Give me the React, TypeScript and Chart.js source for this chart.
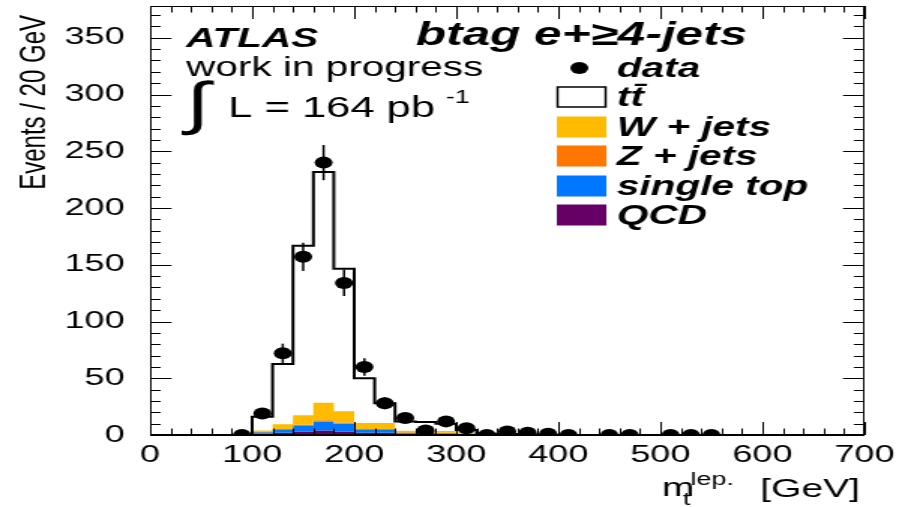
import { useEffect, useRef } from 'react';
import { Chart, registerables } from 'chart.js';

Chart.register(...registerables);

// ---------------- data ----------------
const BIN = 20; // GeV per bin
const binLow = [100, 120, 140, 160, 180, 200, 220, 240, 260, 280, 300, 320, 340, 360, 380];
const qcd = [1, 2, 3, 4, 3, 2, 2, 1, 0.8, 0.6, 0.4, 0.2, 0.1, 0, 0];
const singleTop = [1.5, 2.5, 5, 8, 7, 2.5, 2.5, 1, 1, 1, 0.6, 0.3, 0.2, 0.2, 0.1];
const zJets = [0.5, 0.7, 1, 1, 1, 0.8, 0.8, 0.5, 0.4, 0.4, 0.3, 0.1, 0.1, 0, 0];
const wJets = [1, 4.3, 8.5, 15.5, 10, 5.2, 5.2, 1.3, 1.3, 1.5, 1, 0.4, 0.4, 0.3, 0.2];
const ttbar = [12, 53.1, 149.2, 203.2, 125.4, 39.5, 17.5, 8.2, 8, 6.5, 2.1, 0.2, 0, 0, 0];

const dataX = [90, 110, 130, 150, 170, 190, 210, 230, 250, 270, 290, 310, 330, 350, 370, 390, 410, 450, 470, 510, 530, 550];
const dataY = [0, 19, 72, 157, 240, 134, 60, 28, 15, 4, 12, 6, 0, 3, 2, 1, 0, 0, 0, 0, 0, 0];
const dataErr = [0, 4.4, 8.5, 12.5, 15.5, 11.6, 7.7, 5.3, 3.9, 2, 3.5, 2.4, 0, 1.7, 1.4, 1, 0, 0, 0, 0, 0, 0];

const xTicks = [0, 100, 200, 300, 400, 500, 600, 700];
const yTicks = [0, 50, 100, 150, 200, 250, 300, 350];

const legendLabels = ['data', 'tt\u0304', 'W + jets', 'Z + jets', 'single top', 'QCD'];
const legendColors = ['#000000', '#ffffff', '#ffbb00', '#ff7700', '#0077ff', '#660066'];

// ---------------- layout ----------------
const W = 609;
const H = 507;
const SX = 914 / W;
const FONT = '"Liberation Sans", Arial, Helvetica, sans-serif';

function add(a: number[], b: number[]) {
  return a.map((v, i) => v + b[i]);
}
const cQcd = qcd.slice();
const cSt = add(cQcd, singleTop);
const cZ = add(cSt, zJets);
const cW = add(cZ, wJets);
const cTot = add(cW, ttbar);

function steps(vals: number[]) {
  const n = vals.length;
  const pts: { x: number; y: number }[] = [{ x: binLow[0], y: 0 }];
  vals.forEach((v, i) => pts.push({ x: binLow[i], y: v }));
  pts.push({ x: binLow[n - 1] + BIN, y: vals[n - 1] });
  pts.push({ x: binLow[n - 1] + BIN, y: 0 });
  return pts;
}

const framePlugin = {
  id: 'frameTicks',
  afterDatasetsDraw(chart: any) {
    const { ctx, chartArea: a, scales } = chart;
    const xs = scales.x;
    const ys = scales.y;
    ctx.save();
    // error bars
    ctx.strokeStyle = '#000';
    ctx.lineWidth = 1.5;
    dataX.forEach((x, i) => {
      if (dataErr[i] <= 0) return;
      const px = xs.getPixelForValue(x);
      ctx.beginPath();
      ctx.moveTo(px, ys.getPixelForValue(dataY[i] - dataErr[i]));
      ctx.lineTo(px, ys.getPixelForValue(dataY[i] + dataErr[i]));
      ctx.stroke();
    });
    // frame
    ctx.lineWidth = 1;
    ctx.strokeRect(a.left + 0.5, a.top + 0.5, a.right - a.left - 1, a.bottom - a.top);
    ctx.lineWidth = 2;
    ctx.beginPath();
    ctx.moveTo(a.left, a.bottom);
    ctx.lineTo(a.right, a.bottom);
    ctx.stroke();
    // ticks
    ctx.lineWidth = 1;
    const xMajor = 13;
    const xMinor = 6.5;
    const yMajor = 14.3;
    const yMinor = 7.1;
    ctx.beginPath();
    for (let v = xs.min; v <= xs.max + 0.01; v += 20) {
      const px = Math.round(xs.getPixelForValue(v)) + 0.5;
      const len = v % 100 === 0 ? xMajor : xMinor;
      ctx.moveTo(px, a.bottom);
      ctx.lineTo(px, a.bottom - len);
      ctx.moveTo(px, a.top);
      ctx.lineTo(px, a.top + len);
    }
    for (let v = ys.min; v <= ys.max + 0.01; v += 10) {
      const py = Math.round(ys.getPixelForValue(v)) + 0.5;
      const len = v % 50 === 0 ? yMajor : yMinor;
      ctx.moveTo(a.left, py);
      ctx.lineTo(a.left + len, py);
      ctx.moveTo(a.right, py);
      ctx.lineTo(a.right - len, py);
    }
    ctx.stroke();
    ctx.restore();
  },
};

const textPlugin = {
  id: 'texts',
  afterDraw(chart: any) {
    const { ctx } = chart;
    ctx.save();
    ctx.fillStyle = '#000';
    ctx.textBaseline = 'alphabetic';
    ctx.textAlign = 'left';

    ctx.font = `italic bold 27px ${FONT}`;
    ctx.fillText('ATLAS', 124, 47);
    ctx.font = `italic bold 33px ${FONT}`;
    ctx.fillText('btag e+\u22654-jets', 277, 45);

    ctx.font = `27px ${FONT}`;
    ctx.fillText('work in progress', 124, 76);
    ctx.font = `58px ${FONT}`;
    ctx.fillText('\u222B', 124, 123);
    ctx.font = `29px ${FONT}`;
    ctx.fillText('L = 164 pb', 152, 117);
    ctx.font = `18px ${FONT}`;
    ctx.fillText('-1', 297, 103);

    // legend
    const rowY = [68, 97, 127, 156, 186, 215];
    ctx.font = `italic bold 27px ${FONT}`;
    legendLabels.forEach((lab, i) => {
      const cy = rowY[i];
      if (i === 0) {
        ctx.beginPath();
        ctx.arc(386, cy, 6, 0, Math.PI * 2);
        ctx.fillStyle = legendColors[0];
        ctx.fill();
      } else {
        ctx.fillStyle = legendColors[i];
        ctx.fillRect(371, cy - 10.5, 33, 21);
        if (i === 1) {
          ctx.strokeStyle = '#000';
          ctx.lineWidth = 1.5;
          ctx.strokeRect(371.5, cy - 10, 32, 20);
        }
      }
      ctx.fillStyle = '#000';
      ctx.fillText(lab, 411, cy + 9);
    });

    // x axis title
    ctx.font = `26px ${FONT}`;
    ctx.fillText('m', 441, 496);
    ctx.font = `18px ${FONT}`;
    ctx.fillText('t', 455, 505);
    ctx.fillText('lep.', 460, 485);
    ctx.font = `26px ${FONT}`;
    ctx.textAlign = 'right';
    ctx.fillText('[GeV]', 573, 497);

    // y axis title
    ctx.save();
    ctx.translate(30, 15);
    ctx.rotate(-Math.PI / 2);
    ctx.textAlign = 'right';
    ctx.font = `24px ${FONT}`;
    ctx.fillText('Events / 20 GeV', 0, 0);
    ctx.restore();

    ctx.restore();
  },
};

export default function App() {
  const ref = useRef<HTMLCanvasElement>(null);
  useEffect(() => {
    const canvas = ref.current!;
    const histBase = {
      type: 'line' as const,
      stepped: 'before' as const,
      pointRadius: 0,
      pointHoverRadius: 0,
      borderWidth: 0,
      tension: 0,
    };
    const chart = new Chart(canvas, {
      type: 'line',
      data: {
        datasets: [
          {
            label: 'data',
            data: dataX.map((x, i) => ({ x, y: dataY[i] })),
            showLine: false,
            pointRadius: 6,
            pointStyle: 'circle',
            pointBackgroundColor: '#000',
            pointBorderColor: '#000',
            pointBorderWidth: 0,
          },
          {
            ...histBase,
            label: 'tt',
            data: steps(cTot),
            borderColor: '#000',
            borderWidth: 2,
            fill: false,
          },
          { ...histBase, label: 'W + jets', data: steps(cW), backgroundColor: legendColors[2], borderColor: legendColors[2], fill: '+1' },
          { ...histBase, label: 'Z + jets', data: steps(cZ), backgroundColor: legendColors[3], borderColor: legendColors[3], fill: '+1' },
          { ...histBase, label: 'single top', data: steps(cSt), backgroundColor: legendColors[4], borderColor: legendColors[4], fill: '+1' },
          { ...histBase, label: 'QCD', data: steps(cQcd), backgroundColor: legendColors[5], borderColor: legendColors[5], fill: 'origin' },
        ] as any,
      },
      options: {
        responsive: false,
        animation: false,
        devicePixelRatio: 1,
        layout: { padding: { top: 6, right: 33, left: 0, bottom: 0 } },
        plugins: { legend: { display: false }, tooltip: { enabled: false } },
        events: [],
        scales: {
          x: {
            type: 'linear',
            min: 0,
            max: 700,
            grid: { display: false },
            border: { display: false },
            afterFit: (s: any) => {
              s.height = 72;
              s.paddingLeft = 0;
              s.paddingRight = 0;
              s.paddingTop = 0;
              s.paddingBottom = 0;
            },
            afterBuildTicks: (s: any) => {
              s.ticks = xTicks.map((v) => ({ value: v }));
            },
            ticks: {
              font: { family: FONT, size: 24 },
              color: '#000',
              padding: -2,
              maxRotation: 0,
              autoSkip: false,
              includeBounds: false,
            },
          },
          y: {
            type: 'linear',
            min: 0,
            max: 378,
            grid: { display: false },
            border: { display: false },
            afterFit: (s: any) => {
              s.width = 100;
              s.paddingTop = 0;
              s.paddingBottom = 0;
              s.paddingLeft = 0;
              s.paddingRight = 0;
            },
            afterBuildTicks: (s: any) => {
              s.ticks = yTicks.map((v) => ({ value: v }));
            },
            ticks: {
              font: { family: FONT, size: 24 },
              color: '#000',
              padding: 9,
              autoSkip: false,
              includeBounds: false,
            },
          },
        },
      } as any,
      plugins: [framePlugin, textPlugin],
    });
    return () => chart.destroy();
  }, []);
  return (
    <div
      style={{
        position: 'fixed',
        left: 0,
        top: 0,
        width: 914,
        height: 507,
        overflow: 'hidden',
        background: '#fff',
      }}
    >
      <canvas
        ref={ref}
        width={W}
        height={H}
        style={{
          display: 'block',
          width: W,
          height: H,
          transform: `scaleX(${SX})`,
          transformOrigin: '0 0',
        }}
      />
    </div>
  );
}
